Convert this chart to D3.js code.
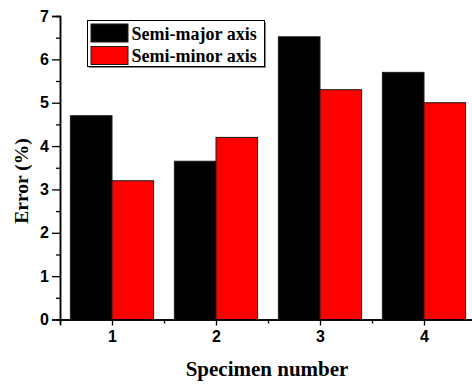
<!DOCTYPE html>
<html>
<head>
<meta charset="utf-8">
<script src="https://cdn.jsdelivr.net/npm/d3@7"></script>
<style>
  html, body { margin: 0; padding: 0; background: #fff; }
  svg { display: block; }
</style>
</head>
<body>
<svg id="chart" width="472" height="384"></svg>
<script>
// Measurement error per specimen
const specimens = [1, 2, 3, 4];
const seriesNames = ["Semi-major axis", "Semi-minor axis"];
const semiMajor = [4.7, 3.65, 6.52, 5.7];
const semiMinor = [3.2, 4.2, 5.3, 5.0];
const seriesColors = ["#000000", "#ff0000"];
const yTicks = [0, 1, 2, 3, 4, 5, 6, 7];

const svg = d3.select("#chart");
const plotLeft = 60, plotTop = 16, plotBottom = 319.5, plotRight = 476;

const x = d3.scaleLinear().domain([0.5, 4.5]).range([plotLeft, plotRight]);
const y = d3.scaleLinear().domain([0, 7]).range([plotBottom, plotTop]);
const groupW = (x(2) - x(1)) * 0.8;
const sub = d3.scaleBand().domain(seriesNames).range([-groupW / 2, groupW / 2]).padding(0);

const series = [semiMajor, semiMinor];

// bars
series.forEach((vals, si) => {
  svg.append("g").selectAll("rect")
    .data(vals)
    .join("rect")
    .attr("x", (d, i) => x(specimens[i]) + sub(seriesNames[si]))
    .attr("y", d => y(d))
    .attr("width", sub.bandwidth())
    .attr("height", d => y(0) - y(d))
    .attr("fill", seriesColors[si])
    .attr("stroke", "#1a1a1a")
    .attr("stroke-width", 1);
});

// y axis
const yAxis = svg.append("g").attr("transform", `translate(${plotLeft},0)`)
  .call(d3.axisLeft(y).tickValues(yTicks).tickFormat(d3.format("d")).tickSize(8).tickPadding(3));
const yMinor = svg.append("g").attr("transform", `translate(${plotLeft},0)`)
  .call(d3.axisLeft(y).tickValues(d3.range(0.5, 7, 1)).tickFormat("").tickSize(4));

// x axis
const xAxis = svg.append("g").attr("transform", `translate(0,${plotBottom})`)
  .call(d3.axisBottom(x).tickValues(specimens).tickFormat(d3.format("d")).tickSize(6).tickPadding(5));
const xMinor = svg.append("g").attr("transform", `translate(0,${plotBottom})`)
  .call(d3.axisBottom(x).tickValues([0.5, 1.5, 2.5, 3.5]).tickFormat("").tickSize(4));

[yAxis, yMinor, xAxis, xMinor].forEach(g => {
  g.selectAll(".domain").attr("stroke", "#000").attr("stroke-width", 1.5);
  g.selectAll(".tick line").attr("stroke", "#000").attr("stroke-width", 1.3);
  g.selectAll(".tick text")
    .attr("fill", "#000")
    .style("font-family", "'Liberation Sans', Arial, sans-serif")
    .style("font-weight", "bold")
    .style("font-size", "16px");
});

// axis titles
svg.append("text")
  .attr("x", (plotLeft + plotRight) / 2 - 1)
  .attr("y", 376)
  .attr("text-anchor", "middle")
  .style("font-family", "'Liberation Serif', 'Times New Roman', serif")
  .style("font-weight", "bold")
  .style("font-size", "21px")
  .text("Specimen number");

svg.append("text")
  .attr("transform", "translate(28,181) rotate(-90)")
  .attr("text-anchor", "middle")
  .style("font-family", "'Liberation Serif', 'Times New Roman', serif")
  .style("font-weight", "bold")
  .style("font-size", "19.5px")
  .text("Error (%)");

// legend
const lg = svg.append("g").attr("transform", "translate(87.5,20.5)");
lg.append("rect").attr("x", 1.5).attr("y", 1.5).attr("width", 177).attr("height", 46)
  .attr("fill", "#888");
lg.append("rect").attr("x", 0).attr("y", 0).attr("width", 177).attr("height", 46)
  .attr("fill", "#fff").attr("stroke", "#000").attr("stroke-width", 1);
seriesNames.forEach((name, i) => {
  const row = lg.append("g").attr("transform", `translate(0,${i * 22.5})`);
  row.append("rect").attr("x", 3.5).attr("y", 3.5).attr("width", 37).attr("height", 18)
    .attr("fill", seriesColors[i]).attr("stroke", "#1a1a1a").attr("stroke-width", 1);
  row.append("text").attr("x", 44).attr("y", 19)
    .style("font-family", "'Liberation Serif', 'Times New Roman', serif")
    .style("font-weight", "bold")
    .style("font-size", "18px")
    .text(name);
});
</script>
</body>
</html>
